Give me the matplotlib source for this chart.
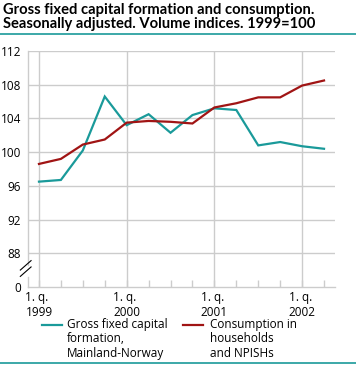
import matplotlib
matplotlib.use('Agg')
import matplotlib.pyplot as plt
from matplotlib.lines import Line2D

plt.rcParams['font.family'] = ['Open Sans', 'DejaVu Sans']

# Quarters 1. q. 1999 .. 2. q. 2002
quarters = list(range(14))
investment = [96.5, 96.7, 100.2, 106.6, 103.2, 104.5, 102.3, 104.4, 105.2, 105.0, 100.8, 101.2, 100.7, 100.4]
consumption = [98.6, 99.2, 100.9, 101.5, 103.5, 103.7, 103.6, 103.4, 105.3, 105.8, 106.5, 106.5, 107.9, 108.5]

x_tick_positions = [0, 4, 8, 12]
x_tick_labels = ['1. q.\n1999', '1. q.\n2000', '1. q.\n2001', '1. q.\n2002']
y_tick_positions = [84, 88, 92, 96, 100, 104, 108, 112]
y_tick_labels = ['0', '88', '92', '96', '100', '104', '108', '112']

teal = '#1A9A9A'
red = '#A01414'
grid_grey = '#CCCCCC'

figure = plt.figure(figsize=(3.56, 3.65), dpi=100)
axes = figure.add_axes([28 / 356, 78 / 365, 307 / 356, 236 / 365])

axes.plot(quarters, investment, color=teal, linewidth=1.6, solid_joinstyle='miter')
axes.plot(quarters, consumption, color=red, linewidth=1.6, solid_joinstyle='miter')

axes.set_xlim(-0.5, 13.5)
axes.set_ylim(84, 112)

# Grid lines.
for y in y_tick_positions[1:]:
    axes.axhline(y, color=grid_grey, linewidth=1.0, zorder=0)
for x in x_tick_positions:
    axes.axvline(x, color=grid_grey, linewidth=1.0, zorder=0)

axes.set_yticks(y_tick_positions)
axes.set_yticklabels(y_tick_labels)
axes.set_xticks(x_tick_positions)
axes.set_xticklabels(x_tick_labels, multialignment='left')
axes.set_xticks(quarters, minor=True)
axes.tick_params(axis='y', length=0, pad=5, labelsize=8.5, colors='#000000')
axes.tick_params(axis='x', which='both', direction='in', length=5, width=1.0, color=grid_grey, pad=3, labelsize=8.5)

for side in ['top', 'right', 'left']:
    axes.spines[side].set_visible(False)
axes.spines['bottom'].set_color(grid_grey)
axes.spines['bottom'].set_linewidth(1.0)

# Left axis with a break near the bottom.
axes.add_line(Line2D([-0.5, -0.5], [86.6, 112], color=grid_grey, linewidth=1.0, clip_on=False))
axes.add_line(Line2D([-0.5, -0.5], [84, 85.2], color=grid_grey, linewidth=1.0, clip_on=False))
for offset in [0.0, 0.75]:
    axes.add_line(Line2D([0.01 - 0.035, 0.01 + 0.0], [offset / 28 + 0.045, offset / 28 + 0.085],
                         transform=axes.transAxes, color='#000000', linewidth=0.8, clip_on=False))

# Title.
figure.text(3 / 356, 1 - 3 / 365, 'Gross fixed capital formation and consumption.\nSeasonally adjusted. Volume indices. 1999=100',
            fontsize=10.6, fontweight='bold', family=['Lato', 'DejaVu Sans'], va='top', ha='left', linespacing=1.0)
figure.add_artist(Line2D([0, 1], [1 - 34 / 365, 1 - 34 / 365], color=teal, linewidth=1.2))
figure.add_artist(Line2D([0, 1], [1 - 363 / 365, 1 - 363 / 365], color=teal, linewidth=1.2))

# Legend.
figure.add_artist(Line2D([42 / 356, 62 / 356], [1 - 325 / 365, 1 - 325 / 365], color=teal, linewidth=1.6))
figure.text(67 / 356, 1 - 318 / 365, 'Gross fixed capital\nformation,\nMainland-Norway',
            fontsize=8.5, va='top', ha='left', linespacing=1.15)
figure.add_artist(Line2D([183 / 356, 203 / 356], [1 - 325 / 365, 1 - 325 / 365], color=red, linewidth=1.6))
figure.text(210 / 356, 1 - 318 / 365, 'Consumption in\nhouseholds\nand NPISHs',
            fontsize=8.5, va='top', ha='left', linespacing=1.15)

figure.savefig('out.png', dpi=100)
